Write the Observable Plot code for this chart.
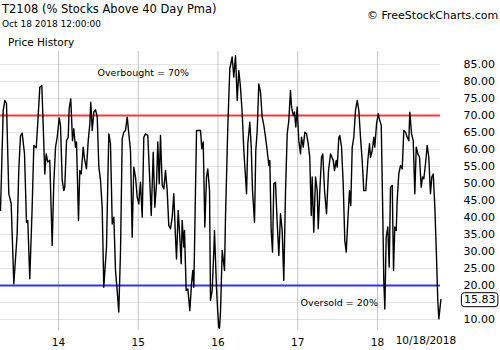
<!DOCTYPE html>
<html><head><meta charset="utf-8">
<script src="https://cdn.jsdelivr.net/npm/d3@7"></script>
<script src="https://cdn.jsdelivr.net/npm/@observablehq/plot@0.6"></script>
<style>
body{margin:0;background:#fff;}
#wrap{position:relative;width:500px;height:350px;font-family:"DejaVu Sans",Verdana,sans-serif;overflow:hidden;}
#chart{position:absolute;left:0;top:0;}
.t{position:absolute;white-space:nowrap;color:#000;z-index:2;}
</style></head><body>
<div id="wrap">
<div id="chart"></div>
<div class="t" style="left:2px;top:2px;font-size:11.5px">T2108 (% Stocks Above 40 Day Pma)</div>
<div class="t" style="left:2px;top:19px;font-size:9px">Oct 18 2018 12:00:00</div>
<div class="t" style="left:367px;top:9px;font-size:11px">© FreeStockCharts.com</div>
<div class="t" style="left:8px;top:36px;font-size:10.5px">Price History</div>
</div>
<script>
// decimal-year dates of the T2108 readings
const dates = [
2013.273,2013.307,2013.327,2013.348,2013.377,2013.407,2013.440,2013.482,2013.502,2013.524,
2013.545,2013.574,2013.599,2013.615,2013.640,2013.670,2013.691,2013.721,2013.741,2013.766,
2013.791,2013.808,2013.828,2013.846,2013.866,2013.891,2013.921,2013.941,2013.963,2013.984,
2014.009,2014.025,2014.047,2014.067,2014.079,2014.101,2014.122,2014.134,2014.154,2014.176,
2014.192,2014.213,2014.226,2014.251,2014.267,2014.285,2014.310,2014.326,2014.351,2014.373,
2014.393,2014.405,2014.423,2014.443,2014.464,2014.486,2014.506,2014.527,2014.548,2014.568,
2014.602,2014.631,2014.652,2014.674,2014.694,2014.715,2014.736,2014.756,2014.778,2014.799,
2014.819,2014.840,2014.862,2014.882,2014.903,2014.924,2014.944,2014.966,2014.987,2015.007,
2015.028,2015.050,2015.070,2015.091,2015.120,2015.141,2015.163,2015.188,2015.208,2015.229,
2015.245,2015.263,2015.279,2015.301,2015.321,2015.342,2015.363,2015.383,2015.405,2015.426,
2015.446,2015.467,2015.480,2015.501,2015.521,2015.539,2015.551,2015.571,2015.580,2015.601,
2015.622,2015.647,2015.668,2015.684,2015.697,2015.731,2015.760,2015.781,2015.797,2015.815,
2015.835,2015.856,2015.872,2015.894,2015.906,2015.927,2015.948,2015.956,2015.981,2015.998,
2016.010,2016.019,2016.032,2016.053,2016.082,2016.094,2016.123,2016.148,2016.178,2016.198,
2016.220,2016.241,2016.261,2016.282,2016.304,2016.324,2016.345,2016.358,2016.374,2016.399,
2016.417,2016.433,2016.458,2016.474,2016.492,2016.512,2016.533,2016.554,2016.575,2016.596,
2016.617,2016.637,2016.650,2016.667,2016.684,2016.700,2016.721,2016.743,2016.763,2016.784,
2016.805,2016.825,2016.847,2016.868,2016.888,2016.909,2016.922,2016.943,2016.959,2016.976,
2016.993,2017.013,2017.035,2017.047,2017.069,2017.089,2017.110,2017.131,2017.151,2017.169,
2017.181,2017.201,2017.223,2017.244,2017.257,2017.277,2017.298,2017.314,2017.336,2017.361,
2017.386,2017.411,2017.445,2017.461,2017.482,2017.495,2017.515,2017.528,2017.549,2017.570,
2017.590,2017.608,2017.628,2017.649,2017.665,2017.683,2017.703,2017.724,2017.746,2017.766,
2017.787,2017.808,2017.828,2017.853,2017.879,2017.900,2017.912,2017.934,2017.954,2017.966,
2017.988,2018.009,2018.029,2018.047,2018.067,2018.079,2018.092,2018.109,2018.129,2018.147,
2018.163,2018.185,2018.201,2018.217,2018.235,2018.247,2018.267,2018.289,2018.310,2018.330,
2018.351,2018.373,2018.393,2018.405,2018.427,2018.448,2018.468,2018.486,2018.506,2018.527,
2018.548,2018.565,2018.581,2018.602,2018.623,2018.643,2018.664,2018.681,2018.699,2018.719,
2018.736,2018.756,2018.769,2018.795
];
// percent of stocks above their 40-day moving average
const values = [
42.1,71.5,74.4,73.6,47.0,44.0,20.5,35.2,53.8,64.1,
64.8,58.7,38.6,39.1,22.0,43.0,61.2,60.5,68.0,78.3,
78.8,67.5,52.8,58.7,56.3,56.8,31.8,49.9,60.7,63.6,
69.3,67.1,50.9,47.9,48.9,62.6,63.6,72.0,74.9,62.6,
66.1,60.7,62.2,39.1,53.8,52.8,60.7,57.3,54.3,62.6,
67.5,73.9,65.6,71.0,71.7,69.5,54.8,50.9,43.0,19.5,
31.3,64.6,61.7,38.1,40.1,24.4,18.5,12.2,30.3,63.1,
65.1,65.6,69.5,64.6,59.7,34.2,54.8,51.9,46.0,44.0,
50.4,40.1,63.6,64.6,64.1,52.8,40.6,59.2,43.0,49.9,
62.2,49.9,64.1,49.4,48.4,53.8,47.9,37.6,36.7,40.1,
47.0,34.2,27.8,42.1,34.2,26.4,39.1,31.3,36.2,18.5,
19.0,12.6,20.5,24.4,19.5,65.6,65.6,65.6,60.2,62.2,
37.2,51.9,54.3,47.9,15.6,18.5,30.3,36.2,19.5,11.7,
7.7,7.4,12.6,30.3,24.4,40.1,66.6,83.7,87.2,81.3,
87.6,74.4,83.2,78.3,70.5,59.7,51.9,47.0,61.7,68.0,
60.7,47.9,38.6,59.7,65.6,79.3,76.9,69.5,67.1,63.6,
59.7,55.3,56.8,36.2,29.8,49.9,50.4,38.1,28.8,41.1,
36.2,21.5,47.9,64.6,68.5,77.4,72.5,70.0,71.0,66.6,
72.5,62.6,58.7,63.6,60.7,65.1,64.6,61.7,57.7,40.6,
51.9,35.7,51.9,47.9,36.7,47.9,57.7,58.7,47.9,41.1,
53.8,58.7,56.8,53.8,56.8,54.8,63.6,64.1,60.7,49.9,
33.2,29.8,39.1,47.9,43.5,60.7,63.6,71.5,74.4,71.5,
63.6,56.8,47.9,47.9,56.8,61.7,57.7,59.7,63.6,60.7,
67.5,70.5,68.5,67.1,40.1,21.5,13.1,34.2,37.2,25.4,
48.9,49.4,24.4,37.2,36.2,45.0,52.8,55.3,54.3,65.6,
65.1,63.6,62.6,71.0,64.6,62.6,47.0,60.7,58.7,57.7,
48.9,51.9,51.4,55.8,61.2,57.7,47.0,51.9,52.8,43.0,
31.3,15.6,10.2,15.83
];
const yearTicks = [2014, 2015, 2016, 2017, 2018];
const yearLabels = ["14", "15", "16", "17", "18"];
const yTicks = [10, 20, 25, 30, 35, 40, 45, 50, 55, 60, 65, 70, 75, 80, 85];
const gridValues = [10, 15, 20, 25, 30, 35, 40, 45, 50, 55, 60, 65, 70, 75, 80, 85];
const overbought = 70, oversold = 20;
const overboughtText = "Overbought = 70%", oversoldText = "Oversold = 20%";
const overboughtPos = [2014.489, 82.6], oversoldPos = [2017.035, 15.0];
const lastDateLabel = "10/18/2018";

const data = dates.map((t, i) => ({t, v: values[i]}));
const last = data[data.length - 1];

const chart = Plot.plot({
  width: 500, height: 350,
  marginLeft: 0, marginRight: 60, marginTop: 51, marginBottom: 20,
  style: {fontFamily: "DejaVu Sans, Verdana, sans-serif", background: "white", color: "#000"},
  x: {domain: [2013.273, 2018.79]},
  y: {domain: [6.76, 88.82]},
  marks: [
    Plot.ruleY(gridValues, {stroke: "#e4e4e4", strokeWidth: 1}),
    Plot.ruleX(yearTicks, {stroke: "#c4c4c4", strokeWidth: 1}),
    Plot.ruleY([overbought], {stroke: "#f03c3c", strokeWidth: 2}),
    Plot.ruleY([oversold], {stroke: "#3232f0", strokeWidth: 2}),
    Plot.line(data, {x: "t", y: "v", stroke: "#000", strokeWidth: 1.4}),
    Plot.text([overboughtText], {x: [overboughtPos[0]], y: [overboughtPos[1]], text: d => d, textAnchor: "start", fontSize: 9.5, fill: "#000"}),
    Plot.text([oversoldText], {x: [oversoldPos[0]], y: [oversoldPos[1]], text: d => d, textAnchor: "start", fontSize: 9.5, fill: "#000"}),
    Plot.axisY(yTicks, {anchor: "right", tickSize: 0, tickPadding: 23, tickFormat: d => d.toFixed(2), fontSize: 11, label: null}),
    Plot.axisX(yearTicks, {anchor: "bottom", tickSize: 0, tickPadding: 8, tickFormat: (d, i) => yearLabels[i], fontSize: 10.5, label: null}),
    Plot.text([lastDateLabel], {x: [last.t], text: d => d, frameAnchor: "bottom", dy: 13, dx: -15, fontSize: 10.5, fill: "#000"}),
    Plot.text([last], {x: "t", y: "v", text: d => d.v.toFixed(2), dx: 23, textAnchor: "start", fontSize: 11, fill: "#000"})
  ]
});
document.getElementById("chart").appendChild(chart);

// rounded box around the last-value tag
d3.select(chart).selectAll("text").each(function() {
  if (this.textContent === last.v.toFixed(2)) {
    const b = this.getBBox();
    const tr = this.getAttribute("transform");
    const r = d3.select(this.parentNode).insert("rect", () => this)
      .attr("x", b.x - 2.5).attr("y", b.y - 0.5)
      .attr("width", b.width + 5).attr("height", b.height + 1)
      .attr("rx", 3).attr("fill", "white").attr("stroke", "#000").attr("stroke-width", 1);
    if (tr) r.attr("transform", tr);
  }
});
</script>
</body></html>
